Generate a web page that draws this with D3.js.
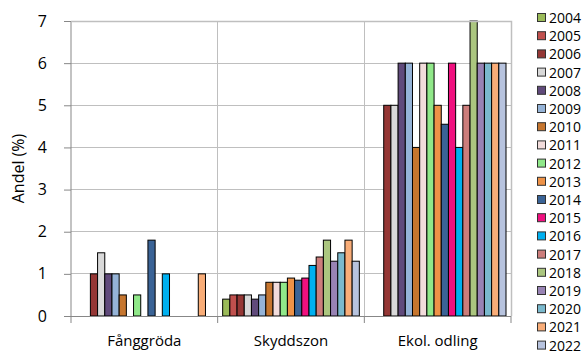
<!DOCTYPE html>
<html><head><meta charset="utf-8">
<script src="https://cdn.jsdelivr.net/npm/d3@7"></script>
<style>body{margin:0;background:#fff}svg{display:block}text{font-family:"Open Sans",sans-serif;fill:#000}</style>
</head><body><svg id="c" width="583" height="353"></svg>
<script>
const categories = ["Fånggröda", "Skyddszon", "Ekol. odling"];
const years = ["2004","2005","2006","2007","2008","2009","2010","2011","2012","2013","2014","2015","2016","2017","2018","2019","2020","2021","2022"];
const fanggroda = [null,null,1,1.5,1,1,0.5,null,0.5,null,1.8,null,1,null,null,null,null,1,null];
const skyddszon = [0.4,0.5,0.5,0.5,0.4,0.5,0.8,0.8,0.8,0.9,0.85,0.9,1.2,1.4,1.8,1.3,1.5,1.8,1.3];
const ekol = [null,null,5,5,6,6,4,6,6,5,4.55,6,4,5,7,6,6,6,6];
const colors = ["#9BBB59","#C0504D","#953735","#D9D9D9","#604A7B","#95B3D7","#C6762F","#F2DCDB","#90E889","#EE9247","#3A6396","#F0107F","#00B0F0","#CC7D7B","#ABC67F","#9883B4","#7AB9CD","#F9AD78","#B7C3DE"];
const yTicks = [0,1,2,3,4,5,6,7];
const yLabel = "Andel (%)";

const series = [fanggroda, skyddszon, ekol];
const svg = d3.select("#c");
const L = 71, R = 511, T = 21, B = 316;
const x0 = d3.scaleBand().domain(categories).range([L, R]).padding(0);
const bw = x0.bandwidth();
const x1 = d3.scaleBand().domain(years).range([5, bw - 5]).padding(0);
const y = d3.scaleLinear().domain([0, 7]).range([B, T]);
const gridC = "#BFBFBF", axisC = "#878787";

// horizontal gridlines
svg.append("g").selectAll("line").data(yTicks.filter(d => d > 0)).join("line")
  .attr("x1", L).attr("x2", R).attr("y1", d => y(d)).attr("y2", d => y(d))
  .attr("stroke", gridC).attr("stroke-width", 1).attr("shape-rendering", "crispEdges");
// vertical gridlines at category boundaries
const bounds = categories.map(c => x0(c)).concat([R]);
svg.append("g").selectAll("line").data(bounds.slice(1)).join("line")
  .attr("x1", d => d).attr("x2", d => d).attr("y1", T).attr("y2", B)
  .attr("stroke", gridC).attr("stroke-width", 1).attr("shape-rendering", "crispEdges");

// bars
const data = [];
categories.forEach((c, ci) => years.forEach((yr, yi) => {
  const v = series[ci][yi];
  if (v != null) data.push({c, yr, v, col: colors[yi]});
}));
svg.append("g").selectAll("rect").data(data).join("rect")
  .attr("x", d => x0(d.c) + x1(d.yr))
  .attr("y", d => y(d.v))
  .attr("width", x1.bandwidth())
  .attr("height", d => y(0) - y(d.v))
  .attr("fill", d => d.col).attr("stroke", "#000").attr("stroke-width", 1);

// y axis
const ya = svg.append("g").attr("transform", `translate(${L},0)`)
  .call(d3.axisLeft(y).tickValues(yTicks).tickSize(7).tickPadding(17).tickFormat(d3.format("d")));
ya.select(".domain").attr("stroke", axisC).attr("d", `M0,${T}V${B}`);
ya.selectAll(".tick line").attr("stroke", axisC);
ya.selectAll(".tick text").attr("font-size", 16).attr("font-family", "Open Sans");

// x axis
const xa = svg.append("g").attr("transform", `translate(0,${B})`);
xa.append("line").attr("x1", L).attr("x2", R).attr("y1", 0.5).attr("y2", 0.5).attr("stroke", axisC);
xa.selectAll("line.t").data(bounds).join("line").attr("class", "t")
  .attr("x1", d => d).attr("x2", d => d).attr("y1", 0).attr("y2", 7).attr("stroke", axisC);
xa.selectAll("text").data(categories).join("text")
  .attr("x", d => x0(d) + bw / 2).attr("y", 30).attr("text-anchor", "middle")
  .attr("font-size", 15).text(d => d);

// top and right border
svg.append("path").attr("d", `M${L},${T + 0.5}H${R + 0.5}V${B}`).attr("fill", "none").attr("stroke", gridC).attr("stroke-width", 1.5);

// y label
svg.append("text").attr("transform", `translate(24,${(T + B) / 2}) rotate(-90)`)
  .attr("text-anchor", "middle").attr("font-size", 16).text(yLabel);

// legend
const lg = svg.append("g");
years.forEach((yr, i) => {
  const cy = 18 + i * 18.2;
  lg.append("rect").attr("x", 537.5).attr("y", cy - 4.5).attr("width", 8).attr("height", 8)
    .attr("fill", colors[i]).attr("stroke", "#333").attr("stroke-width", 1);
  lg.append("text").attr("x", 549).attr("y", cy).attr("dy", "0.35em").attr("font-size", 14).text(yr);
});
</script></body></html>
